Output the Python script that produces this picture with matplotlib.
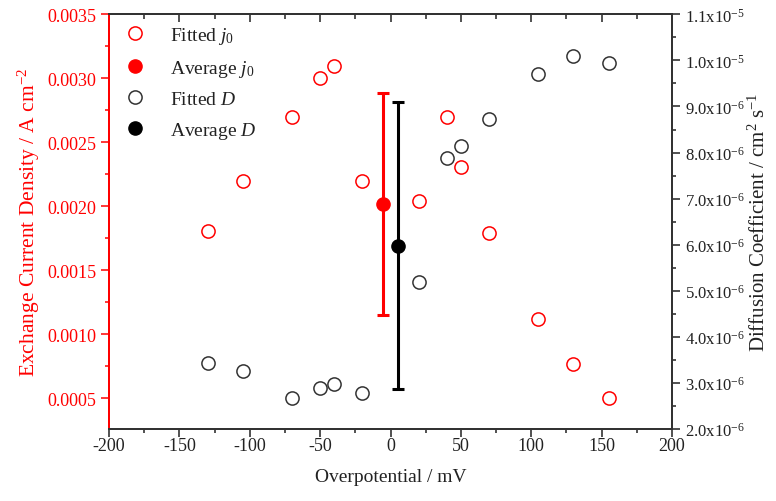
import matplotlib
matplotlib.use("Agg")
import math
import matplotlib.pyplot as plt
from matplotlib.ticker import MultipleLocator, FuncFormatter
from matplotlib.lines import Line2D

plt.rcParams['font.family'] = ['Liberation Serif', 'DejaVu Serif']
plt.rcParams['mathtext.fontset'] = 'custom'
plt.rcParams['mathtext.rm'] = 'Liberation Serif'
plt.rcParams['mathtext.it'] = 'Liberation Serif:italic'

# ---- data ----
overpot = [-130, -105, -70, -50, -40, -20, 20, 40, 50, 70, 105, 130, 155]
j0_fit = [0.00181, 0.00220, 0.00270, 0.00300, 0.00310, 0.00220, 0.00204,
          0.00270, 0.00231, 0.00179, 0.00112, 0.00077, 0.00050]
D_fit = [3.43e-6, 3.25e-6, 2.68e-6, 2.90e-6, 2.97e-6, 2.79e-6, 5.20e-6,
         7.88e-6, 8.15e-6, 8.72e-6, 9.70e-6, 1.010e-5, 9.95e-6]
j0_avg_x = [-5]
j0_avg = [0.00202]
j0_err = [0.000866]
D_avg_x = [5]
D_avg = [5.98e-6]
D_err = [3.11e-6]

xticks = [-200, -150, -100, -50, 0, 50, 100, 150, 200]
left_ticks = [0.0005, 0.0010, 0.0015, 0.0020, 0.0025, 0.0030, 0.0035]
right_ticks = [2e-6, 3e-6, 4e-6, 5e-6, 6e-6, 7e-6, 8e-6, 9e-6, 1.0e-5, 1.1e-5]

RED = '#ff0000'
FS = 13

fig = plt.figure(figsize=(7.76, 5.02), dpi=100)
ax = fig.add_axes([0.1405, 0.1434, 0.7255, 0.8261])
ax2 = ax.twinx()

# fitted points
ax.plot(overpot, j0_fit, linestyle='none', marker='o', ms=9.5, mfc='none',
        mec=RED, mew=1.1, zorder=3)
ax2.plot(overpot, D_fit, linestyle='none', marker='o', ms=9.5, mfc='none',
         mec='#333333', mew=1.1, zorder=3)

# averages with error bars
ax.errorbar(j0_avg_x, j0_avg, yerr=j0_err, fmt='o', color=RED, ms=9.5,
            elinewidth=2.2, capsize=4.5, capthick=2.2, zorder=4)
ax2.errorbar(D_avg_x, D_avg, yerr=D_err, fmt='o', color='black', ms=9.5,
             elinewidth=2.2, capsize=4.5, capthick=2.2, zorder=4)

ax.set_xlim(-200, 200)
ax.set_ylim(0.00026, 0.0035)
ax2.set_ylim(2e-6, 1.1e-5)

ax.set_xticks(xticks)
ax.xaxis.set_minor_locator(MultipleLocator(25))
ax.set_yticks(left_ticks)
ax.yaxis.set_minor_locator(MultipleLocator(0.00025))
ax.yaxis.set_major_formatter(FuncFormatter(lambda v, p: f"{v:.4f}"))
ax.xaxis.set_major_formatter(FuncFormatter(lambda v, p: f"{int(round(v))}"))

ax2.set_yticks(right_ticks)
ax2.yaxis.set_minor_locator(MultipleLocator(5e-7))


def sci_fmt(v, p):
    exp = math.floor(math.log10(v) + 1e-9)
    mant = v / 10 ** exp
    return r"%.1fx10$^{%d}$" % (mant, exp)


ax2.yaxis.set_major_formatter(FuncFormatter(sci_fmt))

# tick styling
ax.tick_params(axis='x', which='major', direction='out', length=6, width=1.1,
               labelsize=FS, colors='#222222', pad=0)
ax.tick_params(axis='x', which='minor', direction='out', length=3, width=1.1,
               colors='#222222')
ax.tick_params(axis='y', which='major', direction='out', length=6, width=1.1,
               labelsize=FS, colors=RED, pad=3)
ax.tick_params(axis='y', which='minor', direction='out', length=3, width=1.1,
               colors=RED)
ax2.tick_params(axis='y', which='major', direction='out', length=6, width=1.1,
                labelsize=FS - 1, colors='#222222', pad=3)
ax2.tick_params(axis='y', which='minor', direction='out', length=3, width=1.1,
                colors='#222222')

# top ticks pointing inward
secx = ax.secondary_xaxis('top')
secx.set_xticks(xticks)
secx.xaxis.set_minor_locator(MultipleLocator(25))
secx.tick_params(axis='x', which='major', direction='in', length=6, width=1.1,
                 labeltop=False, colors='#222222')
secx.tick_params(axis='x', which='minor', direction='in', length=3.5, width=1.1,
                 colors='#222222')
secx.spines['top'].set_color('#555555')
secx.spines['top'].set_linewidth(1.4)

for a in (ax, ax2):
    for s in ('top', 'bottom', 'right'):
        a.spines[s].set_color('#333333')
        a.spines[s].set_linewidth(1.4)
    a.spines['left'].set_color(RED)
    a.spines['left'].set_linewidth(1.4)

ax.set_xlabel('Overpotential / mV', fontsize=14, color='#222222',
              labelpad=10)
ax.set_ylabel('Exchange Current Density / A cm$^{-2}$', fontsize=15.5,
              color=RED, labelpad=4)
ax2.set_ylabel('Diffusion Coefficient / cm$^{2}$ s$^{-1}$', fontsize=15,
               color='#222222', rotation=90, labelpad=3)

# legend
handles = [
    Line2D([], [], linestyle='none', marker='o', ms=9.5, mfc='none', mec=RED, mew=1.1),
    Line2D([], [], linestyle='none', marker='o', ms=9.5, color=RED),
    Line2D([], [], linestyle='none', marker='o', ms=9.5, mfc='none', mec='#333333', mew=1.1),
    Line2D([], [], linestyle='none', marker='o', ms=9.5, color='black'),
]
labels = [r'Fitted $\mathit{j}_{\mathit{0}}$', r'Average $\mathit{j}_{\mathit{0}}$',
          r'Fitted $\mathit{D}$', r'Average $\mathit{D}$']
leg = ax2.legend(handles, labels, loc='upper left', bbox_to_anchor=(0.0, 1.0),
                 frameon=False, fontsize=FS + 1, handletextpad=1.0,
                 labelspacing=0.6, borderaxespad=0.15, handlelength=1.6)
for t in leg.get_texts():
    t.set_color('#222222')

fig.savefig('out.png', dpi=100)
